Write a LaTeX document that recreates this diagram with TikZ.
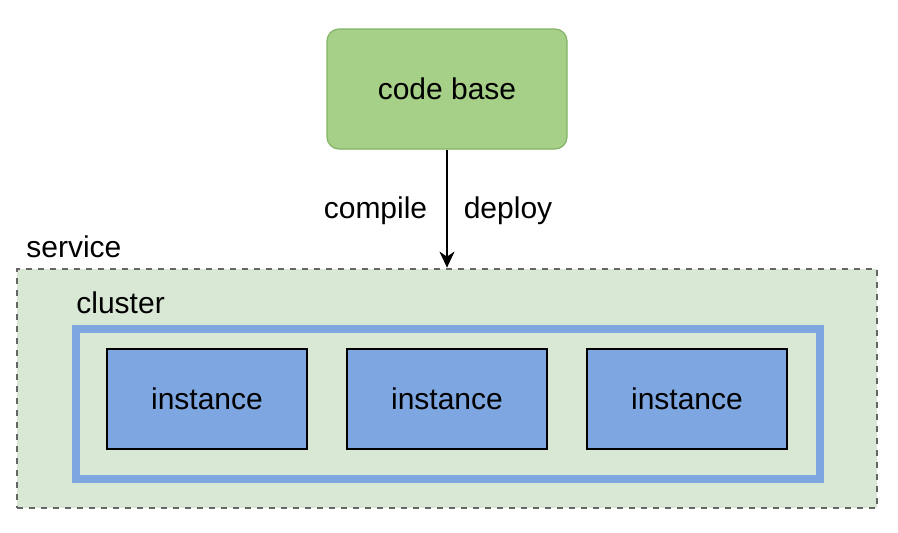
\documentclass[tikz,border=0pt]{standalone}
\usepackage{fontspec}
\setmainfont{Liberation Sans}
\usetikzlibrary{arrows.meta, positioning}

\definecolor{basegreen}{HTML}{A6CF87}
\definecolor{basestroke}{HTML}{82B366}
\definecolor{servicefill}{HTML}{D9E7D5}
\definecolor{clusterblue}{HTML}{7EA6E0}

\begin{document}
\begin{tikzpicture}[
        font=\fontsize{15}{18}\selectfont,
        base/.style={draw=basestroke, line width=0.6pt, fill=basegreen, rounded corners=6pt, minimum width=120pt, minimum height=60pt, align=center},
        servicebox/.style={draw=black!60, line width=1pt, dash pattern=on 3pt off 3pt, fill=servicefill, minimum width=430pt, minimum height=119.5pt},
        clusterbox/.style={draw=clusterblue, line width=4pt, fill=servicefill, minimum width=372pt, minimum height=75pt},
        instancebox/.style={draw=black, line width=1pt, fill=clusterblue, minimum width=100pt, minimum height=50pt},
        arrow/.style={-{Stealth[length=8pt, width=7.5pt, inset=2.5pt]}, line width=0.8pt},
        tag/.style={inner sep=0pt}
    ]
        \useasboundingbox (-223.5pt,44.5pt) rectangle (225.5pt,-221.5pt);

        % Caixa principal
        \node[base] (codebase) {code base};

        % Servico e cluster
        \node[servicebox, below=59pt of codebase] (service) {};
        \node[clusterbox, below=87.5pt of codebase, xshift=0.5pt] (cluster) {};
        \node[tag, anchor=base west, xshift=5pt, yshift=5pt] (servicelabel) at (service.north west) {service};
        \node[tag, anchor=base west, xshift=2pt, yshift=5.5pt] (clusterlabel) at (cluster.north west) {cluster};

        % Instancias
        \node[instancebox, below=99pt of codebase] (inst2) {instance};
        \node[instancebox, left=19pt of inst2] (inst1) {instance};
        \node[instancebox, right=19pt of inst2] (inst3) {instance};

        % Ligacao
        \draw[arrow] (codebase) -- (service)
            node[tag, pos=0.58, anchor=base east, xshift=-9.5pt] (compile) {compile}
            node[tag, pos=0.58, anchor=base west, xshift=8pt] (deploy) {deploy};

    \end{tikzpicture}
\end{document}
